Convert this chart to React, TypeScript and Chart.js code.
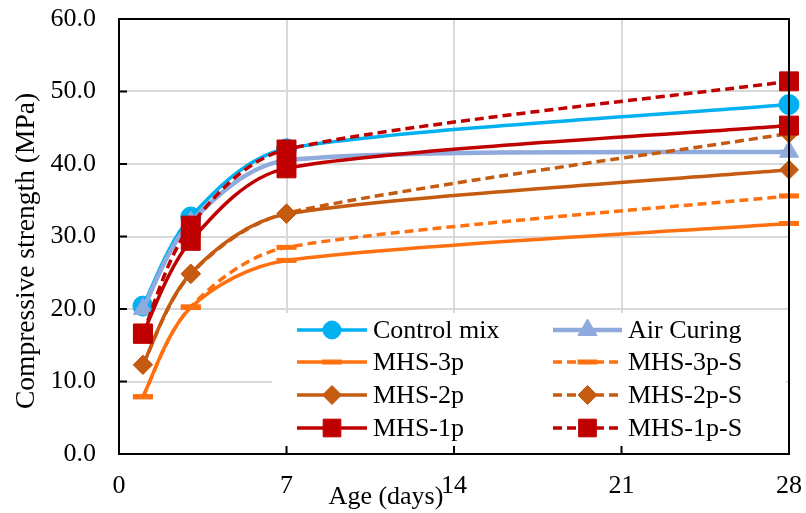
import React, { useEffect, useRef } from 'react';
import { Chart, registerables } from 'chart.js';

Chart.register(...registerables);

// ---- data ----
const ages = [1, 3, 7, 28];
const xTickValues = [0, 7, 14, 21, 28];
const yTickValues = [0, 10, 20, 30, 40, 50, 60];
const seriesNames = ['Control mix', 'Air Curing', 'MHS-3p', 'MHS-3p-S', 'MHS-2p', 'MHS-2p-S', 'MHS-1p', 'MHS-1p-S'];
const controlMix = [20.4, 32.7, 42.1, 48.2];
const airCuring = [20.0, 32.0, 40.5, 41.7];
const mhs3p = [7.9, 20.2, 26.7, 31.8];
const mhs3pS = [7.9, 20.3, 28.5, 35.6];
const mhs2p = [12.3, 24.9, 33.1, 39.2];
const mhs2pS = [12.3, 24.8, 33.2, 44.2];
const mhs1p = [16.6, 29.4, 39.4, 45.3];
const mhs1pS = [16.6, 31.5, 42.0, 51.4];
const seriesValues = [controlMix, airCuring, mhs3p, mhs3pS, mhs2p, mhs2pS, mhs1p, mhs1pS];

const xTitle = 'Age (days)';
const yTitle = 'Compressive strength (MPa)';

// ---- styles ----
const FONT = '"Liberation Serif", "Times New Roman", serif';
const styles = [
  { color: '#00B0F0', point: 'circle', r: 10, pbw: 1, dash: [], bw: 3.5 },
  { color: '#8FAADC', point: 'triangle', r: 11, pbw: 1, dash: [], bw: 4.5 },
  { color: '#FF7010', point: 'line', r: 10, pbw: 5, dash: [], bw: 3.5 },
  { color: '#FF7010', point: 'line', r: 10, pbw: 5, dash: [9, 5], bw: 3.5 },
  { color: '#C55A11', point: 'rectRot', r: 9.5, pbw: 1, dash: [], bw: 3.5 },
  { color: '#C55A11', point: 'rectRot', r: 9.5, pbw: 1, dash: [9, 5], bw: 3.5 },
  { color: '#C00000', point: 'rect', r: 13.4, pbw: 1, dash: [], bw: 3.5 },
  { color: '#C00000', point: 'rect', r: 13.4, pbw: 1, dash: [9, 5], bw: 3.5 },
];

function drawMarker(ctx: CanvasRenderingContext2D, kind: string, x: number, y: number, r: number, color: string, lw: number) {
  ctx.save();
  ctx.setLineDash([]);
  ctx.fillStyle = color;
  ctx.strokeStyle = color;
  ctx.lineWidth = lw;
  ctx.beginPath();
  if (kind === 'circle') {
    ctx.arc(x, y, r, 0, Math.PI * 2);
  } else if (kind === 'triangle') {
    ctx.moveTo(x, y - r);
    ctx.lineTo(x + r * Math.sin(Math.PI * 2 / 3), y - r * Math.cos(Math.PI * 2 / 3));
    ctx.lineTo(x - r * Math.sin(Math.PI * 2 / 3), y - r * Math.cos(Math.PI * 2 / 3));
    ctx.closePath();
  } else if (kind === 'rect') {
    const s = r * Math.SQRT1_2;
    ctx.rect(x - s, y - s, 2 * s, 2 * s);
  } else if (kind === 'rectRot') {
    ctx.moveTo(x - r, y);
    ctx.lineTo(x, y - r);
    ctx.lineTo(x + r, y);
    ctx.lineTo(x, y + r);
    ctx.closePath();
  } else if (kind === 'line') {
    ctx.moveTo(x - r, y);
    ctx.lineTo(x + r, y);
    ctx.stroke();
    ctx.restore();
    return;
  }
  ctx.fill();
  ctx.stroke();
  ctx.restore();
}

// Spreadsheet-style smoothing: Bezier arms along (next - prev) / 6,
// limited to a third of the adjacent segment length.
const smoothPlugin = {
  id: 'sheetSmooth',
  beforeDatasetsDraw(chart: any) {
    chart.getSortedVisibleDatasetMetas().forEach((meta: any) => {
      const line = meta.dataset;
      if (!line) return;
      line.updateControlPoints(chart.chartArea, 'x');
      const pts = meta.data;
      for (let i = 0; i < pts.length; i++) {
        const cur = pts[i];
        const prev = pts[Math.max(i - 1, 0)];
        const next = pts[Math.min(i + 1, pts.length - 1)];
        const dx = (next.x - prev.x) / 6;
        const dy = (next.y - prev.y) / 6;
        const arm = Math.hypot(dx, dy) || 1;
        const segPrev = Math.hypot(cur.x - prev.x, cur.y - prev.y);
        const segNext = Math.hypot(next.x - cur.x, next.y - cur.y);
        const k1 = Math.min(1, segPrev / 3 / arm);
        const k2 = Math.min(1, segNext / 3 / arm);
        cur.cp1x = cur.x - dx * k1;
        cur.cp1y = cur.y - dy * k1;
        cur.cp2x = cur.x + dx * k2;
        cur.cp2y = cur.y + dy * k2;
      }
      line._path = undefined;
    });
  },
};

const decorPlugin = {
  id: 'decor',
  afterDraw(chart: any) {
    const { ctx, chartArea: a, scales } = chart;
    const xs = scales.x;
    const ys = scales.y;
    ctx.save();

    // legend box
    ctx.fillStyle = '#ffffff';
    ctx.fillRect(272, 313, 786 - 272, 451 - 313);
    const colLine = [[297, 367], [553, 622]];
    const colText = [373, 628];
    const rowY = [330, 362, 395, 428];
    ctx.font = `26px ${FONT}`;
    ctx.textBaseline = 'middle';
    ctx.textAlign = 'left';
    seriesNames.forEach((name, i) => {
      const st = styles[i];
      const col = i % 2;
      const row = Math.floor(i / 2);
      const y = rowY[row];
      const [x0, x1] = colLine[col];
      ctx.save();
      ctx.strokeStyle = st.color;
      ctx.lineWidth = st.bw;
      ctx.setLineDash(st.dash);
      ctx.beginPath();
      ctx.moveTo(x0, y);
      ctx.lineTo(x1, y);
      ctx.stroke();
      ctx.restore();
      const legendR = st.point === 'circle' ? 9 : st.point === 'rect' ? 12.5 : st.r;
      drawMarker(ctx, st.point, (x0 + x1) / 2, y, legendR, st.color, st.point === 'line' ? st.pbw : 1);
      ctx.fillStyle = '#000';
      ctx.fillText(name, colText[col], y + 1);
    });

    // plot border
    ctx.strokeStyle = '#000';
    ctx.lineWidth = 2;
    ctx.setLineDash([]);
    ctx.strokeRect(a.left, a.top, a.right - a.left, a.bottom - a.top);

    // inner tick marks
    ctx.beginPath();
    yTickValues.forEach((v) => {
      const y = ys.getPixelForValue(v);
      ctx.moveTo(a.left, y);
      ctx.lineTo(a.left + 8, y);
    });
    xTickValues.forEach((v) => {
      const x = xs.getPixelForValue(v);
      ctx.moveTo(x, a.bottom);
      ctx.lineTo(x, a.bottom - 8);
    });
    ctx.stroke();

    // axis titles
    ctx.fillStyle = '#000';
    ctx.font = `26px ${FONT}`;
    ctx.textAlign = 'center';
    ctx.textBaseline = 'middle';
    ctx.fillText(xTitle, 386, 497);
    ctx.save();
    ctx.font = `27.5px ${FONT}`;
    ctx.translate(27, 251);
    ctx.rotate(-Math.PI / 2);
    ctx.fillText(yTitle, 0, 0);
    ctx.restore();

    ctx.restore();
  },
};

const zeroPad = (s: any) => {
  s.paddingTop = 0;
  s.paddingBottom = 0;
  s.paddingLeft = 0;
  s.paddingRight = 0;
};

export default function App() {
  const ref = useRef<HTMLCanvasElement | null>(null);
  useEffect(() => {
    document.body.style.margin = '0';
    const canvas = ref.current;
    if (!canvas) return;
    const datasets = seriesNames.map((name, i) => {
      const st = styles[i];
      return {
        label: name,
        data: ages.map((x, j) => ({ x, y: seriesValues[i][j] })),
        borderColor: st.color,
        backgroundColor: st.color,
        borderWidth: st.bw,
        borderDash: st.dash,
        pointStyle: st.point,
        pointRadius: st.r,
        pointBorderWidth: st.pbw,
        pointBackgroundColor: st.color,
        pointBorderColor: st.color,
        tension: 0.4,
        fill: false,
        clip: false,
        order: seriesNames.length - i,
      };
    });
    const chart = new Chart(canvas, {
      type: 'line',
      data: { datasets },
      options: {
        animation: false,
        responsive: false,
        layout: { padding: { top: 19, right: 17, left: 0, bottom: 0 } },
        plugins: { legend: { display: false }, tooltip: { enabled: false } },
        scales: {
          x: {
            type: 'linear',
            min: 0,
            max: 28,
            afterBuildTicks: (s: any) => { s.ticks = xTickValues.map((v) => ({ value: v })); },
            afterFit: (s: any) => { s.height = 59; zeroPad(s); },
            ticks: { color: '#000', font: { family: FONT, size: 26 }, padding: 17, maxRotation: 0 },
            grid: { color: '#D9D9D9', lineWidth: 2, drawTicks: false },
            border: { display: false },
          },
          y: {
            type: 'linear',
            min: 0,
            max: 60,
            afterBuildTicks: (s: any) => { s.ticks = yTickValues.map((v) => ({ value: v })); },
            afterFit: (s: any) => { s.width = 119; zeroPad(s); },
            ticks: { color: '#000', font: { family: FONT, size: 26 }, padding: 23, callback: (v: any) => Number(v).toFixed(1) },
            grid: { color: '#D9D9D9', lineWidth: 2, drawTicks: false },
            border: { display: false },
          },
        },
      },
      plugins: [smoothPlugin, decorPlugin],
    } as any);
    return () => chart.destroy();
  }, []);
  return (
    <div style={{ position: 'absolute', left: 0, top: 0, width: 806, height: 513, background: '#fff' }}>
      <canvas ref={ref} width={806} height={513} style={{ display: 'block' }} />
    </div>
  );
}
